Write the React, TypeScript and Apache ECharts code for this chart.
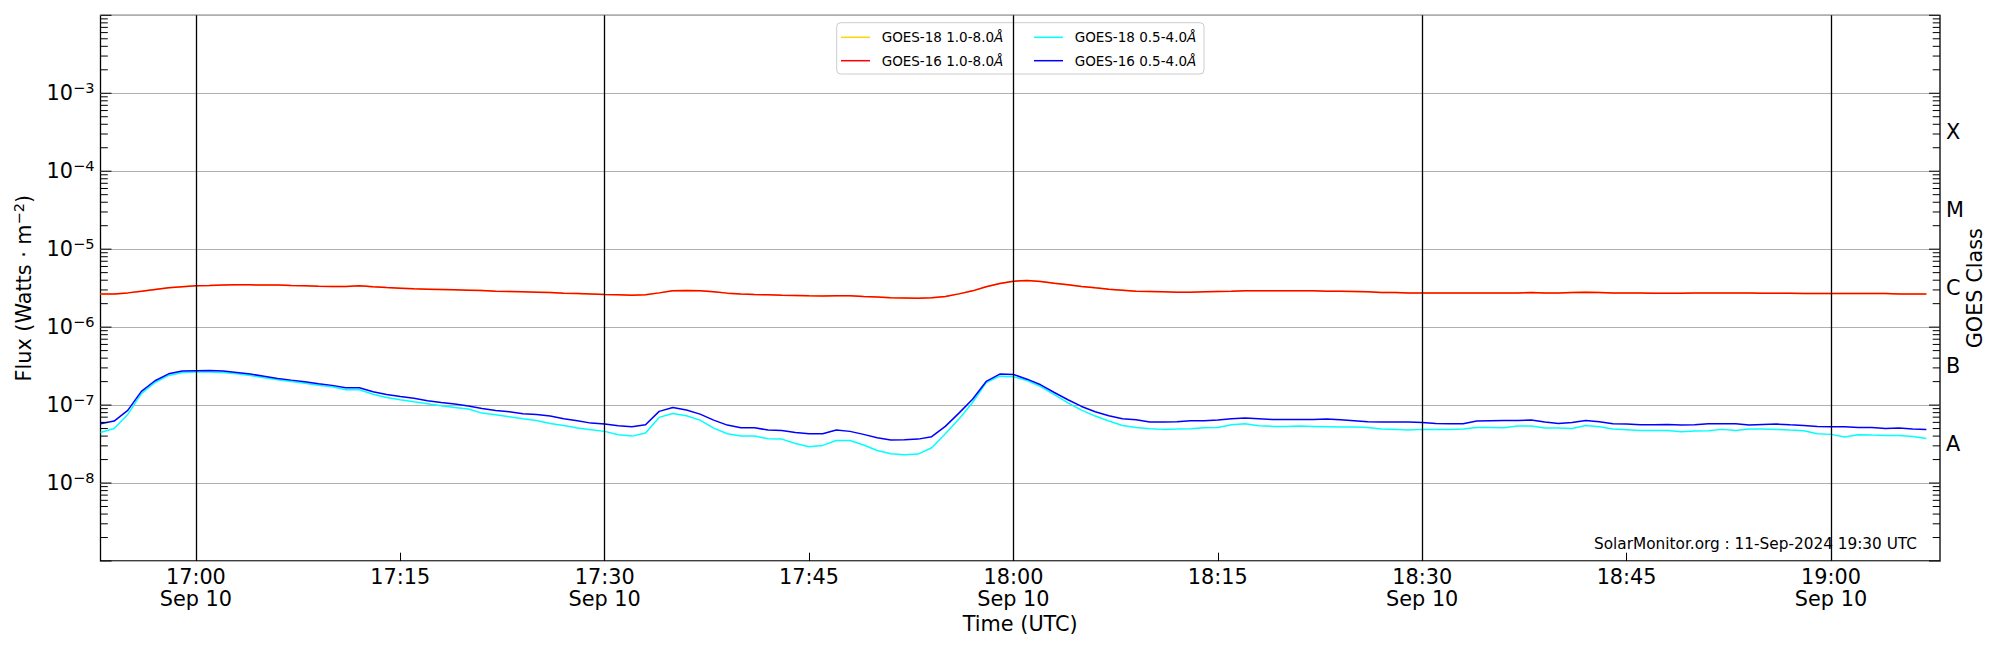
import React, { useEffect, useRef } from "react";
import * as echarts from "echarts";

// ---------- data ----------
const OBS_YEAR = 2024;
const OBS_MONTH = 8; // September (0-based)
const OBS_DAY = 10;
const MONTH_NAMES = ["Jan", "Feb", "Mar", "Apr", "May", "Jun", "Jul", "Aug", "Sep", "Oct", "Nov", "Dec"];
const FIRST_SAMPLE = "16:53";
const AXIS_START = "16:53";
const AXIS_END = "19:08";
const CADENCE_MS = 60000;

const seriesNames = ["GOES-18 1.0-8.0Å", "GOES-16 1.0-8.0Å", "GOES-18 0.5-4.0Å", "GOES-16 0.5-4.0Å"];

// GOES-16 1.0-8.0 Å (1-min)
const goes16Long = [
  2.67e-6, 2.67e-6, 2.75e-6, 2.89e-6, 3.04e-6, 3.19e-6, 3.29e-6, 3.39e-6, 3.42e-6, 3.46e-6,
  3.49e-6, 3.49e-6, 3.46e-6, 3.46e-6, 3.42e-6, 3.39e-6, 3.35e-6, 3.32e-6, 3.32e-6, 3.39e-6,
  3.29e-6, 3.22e-6, 3.16e-6, 3.10e-6, 3.07e-6, 3.04e-6, 3.01e-6, 2.98e-6, 2.95e-6, 2.89e-6,
  2.87e-6, 2.84e-6, 2.81e-6, 2.78e-6, 2.73e-6, 2.70e-6, 2.67e-6, 2.62e-6, 2.60e-6, 2.57e-6,
  2.60e-6, 2.75e-6, 2.92e-6, 2.95e-6, 2.92e-6, 2.84e-6, 2.73e-6, 2.67e-6, 2.62e-6, 2.60e-6,
  2.57e-6, 2.55e-6, 2.52e-6, 2.50e-6, 2.52e-6, 2.52e-6, 2.47e-6, 2.43e-6, 2.38e-6, 2.36e-6,
  2.34e-6, 2.38e-6, 2.47e-6, 2.67e-6, 2.92e-6, 3.29e-6, 3.63e-6, 3.89e-6, 3.96e-6, 3.85e-6,
  3.66e-6, 3.49e-6, 3.32e-6, 3.19e-6, 3.07e-6, 2.98e-6, 2.89e-6, 2.87e-6, 2.84e-6, 2.81e-6,
  2.81e-6, 2.84e-6, 2.87e-6, 2.89e-6, 2.92e-6, 2.92e-6, 2.92e-6, 2.92e-6, 2.92e-6, 2.92e-6,
  2.89e-6, 2.89e-6, 2.87e-6, 2.84e-6, 2.78e-6, 2.78e-6, 2.75e-6, 2.75e-6, 2.75e-6, 2.75e-6,
  2.75e-6, 2.75e-6, 2.75e-6, 2.75e-6, 2.75e-6, 2.78e-6, 2.75e-6, 2.75e-6, 2.78e-6, 2.81e-6,
  2.78e-6, 2.75e-6, 2.75e-6, 2.75e-6, 2.73e-6, 2.73e-6, 2.73e-6, 2.75e-6, 2.75e-6, 2.75e-6,
  2.75e-6, 2.75e-6, 2.73e-6, 2.73e-6, 2.73e-6, 2.70e-6, 2.70e-6, 2.70e-6, 2.70e-6, 2.70e-6,
  2.70e-6, 2.70e-6, 2.67e-6, 2.67e-6, 2.67e-6,
];

// GOES-18 1.0-8.0 Å: drawn underneath GOES-16 and indistinguishable from it in the picture
const goes18Long = goes16Long;

// GOES-18 0.5-4.0 Å (1-min)
const goes18Short = [
  4.46e-8, 5.02e-8, 7.59e-8, 1.40e-7, 1.95e-7, 2.40e-7, 2.62e-7, 2.65e-7, 2.65e-7, 2.62e-7,
  2.52e-7, 2.40e-7, 2.24e-7, 2.11e-7, 2.01e-7, 1.91e-7, 1.80e-7, 1.72e-7, 1.57e-7, 1.57e-7,
  1.38e-7, 1.25e-7, 1.17e-7, 1.10e-7, 1.04e-7, 9.80e-8, 9.33e-8, 8.89e-8, 7.89e-8, 7.52e-8,
  7.09e-8, 6.68e-8, 6.36e-8, 5.82e-8, 5.48e-8, 5.07e-8, 4.83e-8, 4.60e-8, 4.17e-8, 4.00e-8,
  4.38e-8, 6.95e-8, 7.82e-8, 7.30e-8, 6.42e-8, 5.07e-8, 4.29e-8, 4.00e-8, 4.00e-8, 3.70e-8,
  3.66e-8, 3.22e-8, 2.92e-8, 3.04e-8, 3.52e-8, 3.52e-8, 3.07e-8, 2.62e-8, 2.38e-8, 2.31e-8,
  2.35e-8, 2.84e-8, 4.29e-8, 6.61e-8, 1.08e-7, 1.95e-7, 2.35e-7, 2.31e-7, 2.07e-7, 1.73e-7,
  1.36e-7, 1.07e-7, 8.63e-8, 7.23e-8, 6.24e-8, 5.48e-8, 5.17e-8, 4.97e-8, 4.88e-8, 4.92e-8,
  4.97e-8, 5.12e-8, 5.17e-8, 5.59e-8, 5.76e-8, 5.43e-8, 5.33e-8, 5.33e-8, 5.38e-8, 5.33e-8,
  5.28e-8, 5.22e-8, 5.22e-8, 5.17e-8, 4.92e-8, 4.88e-8, 4.78e-8, 4.88e-8, 4.88e-8, 4.88e-8,
  4.92e-8, 5.17e-8, 5.17e-8, 5.12e-8, 5.38e-8, 5.38e-8, 5.07e-8, 5.07e-8, 5.02e-8, 5.48e-8,
  5.28e-8, 4.92e-8, 4.83e-8, 4.73e-8, 4.73e-8, 4.73e-8, 4.55e-8, 4.64e-8, 4.69e-8, 4.88e-8,
  4.73e-8, 4.92e-8, 4.92e-8, 4.88e-8, 4.78e-8, 4.69e-8, 4.29e-8, 4.21e-8, 3.89e-8, 4.17e-8,
  4.12e-8, 4.08e-8, 4.08e-8, 3.96e-8, 3.74e-8,
];

// GOES-16 0.5-4.0 Å (1-min)
const goes16Short = [
  5.76e-8, 6.24e-8, 8.54e-8, 1.50e-7, 2.05e-7, 2.52e-7, 2.73e-7, 2.76e-7, 2.78e-7, 2.73e-7,
  2.62e-7, 2.50e-7, 2.35e-7, 2.20e-7, 2.09e-7, 1.99e-7, 1.88e-7, 1.79e-7, 1.67e-7, 1.67e-7,
  1.48e-7, 1.37e-7, 1.29e-7, 1.22e-7, 1.14e-7, 1.08e-7, 1.03e-7, 9.71e-8, 9.06e-8, 8.54e-8,
  8.21e-8, 7.74e-8, 7.59e-8, 7.23e-8, 6.68e-8, 6.30e-8, 5.87e-8, 5.71e-8, 5.43e-8, 5.28e-8,
  5.59e-8, 8.30e-8, 9.33e-8, 8.63e-8, 7.66e-8, 6.42e-8, 5.54e-8, 5.12e-8, 5.12e-8, 4.78e-8,
  4.73e-8, 4.46e-8, 4.29e-8, 4.29e-8, 4.78e-8, 4.60e-8, 4.21e-8, 3.81e-8, 3.56e-8, 3.59e-8,
  3.66e-8, 3.93e-8, 5.33e-8, 7.89e-8, 1.19e-7, 2.01e-7, 2.50e-7, 2.47e-7, 2.15e-7, 1.82e-7,
  1.45e-7, 1.17e-7, 9.61e-8, 8.21e-8, 7.30e-8, 6.68e-8, 6.49e-8, 6.05e-8, 6.05e-8, 6.11e-8,
  6.30e-8, 6.30e-8, 6.42e-8, 6.68e-8, 6.81e-8, 6.68e-8, 6.55e-8, 6.55e-8, 6.55e-8, 6.55e-8,
  6.61e-8, 6.49e-8, 6.30e-8, 6.11e-8, 6.05e-8, 6.05e-8, 6.05e-8, 5.99e-8, 5.82e-8, 5.76e-8,
  5.76e-8, 6.24e-8, 6.30e-8, 6.36e-8, 6.36e-8, 6.42e-8, 6.05e-8, 5.82e-8, 5.99e-8, 6.36e-8,
  6.11e-8, 5.76e-8, 5.71e-8, 5.59e-8, 5.59e-8, 5.65e-8, 5.54e-8, 5.59e-8, 5.76e-8, 5.76e-8,
  5.76e-8, 5.54e-8, 5.65e-8, 5.71e-8, 5.59e-8, 5.48e-8, 5.33e-8, 5.28e-8, 5.28e-8, 5.17e-8,
  5.17e-8, 5.02e-8, 5.07e-8, 4.92e-8, 4.88e-8,
];

const xTickTimes = ["17:00", "17:15", "17:30", "17:45", "18:00", "18:15", "18:30", "18:45", "19:00"];
const dividerTimes = ["17:00", "17:30", "18:00", "18:30", "19:00"];
const labelledDecades = [-3, -4, -5, -6, -7, -8];
const tickDecades = [-9, -8, -7, -6, -5, -4, -3, -2];
const minorMultipliers = [2, 3, 4, 5, 6, 7, 8, 9];
const goesClassNames = ["X", "M", "C", "B", "A"];
const goesClassExponents = [-3.5, -4.5, -5.5, -6.5, -7.5];
const rightAxisTitle = "GOES Class";
const watermark = "SolarMonitor.org : 11-Sep-2024 19:30 UTC";

// ---------- helpers ----------
const FONT = "DejaVu Sans";
const toMs = (hhmm: string) => {
  const [h, m] = hhmm.split(":").map(Number);
  return Date.UTC(OBS_YEAR, OBS_MONTH, OBS_DAY, h, m);
};
const withTimes = (vals: number[]) => vals.map((v, i) => [toMs(FIRST_SAMPLE) + i * CADENCE_MS, v]);
const pad2 = (n: number) => (n < 10 ? "0" + n : "" + n);

const yTickMarks: number[][] = [];
tickDecades.forEach((e) => {
  yTickMarks.push([toMs(AXIS_START), Math.pow(10, e), 1]);
  if (e < -2) minorMultipliers.forEach((m) => yTickMarks.push([toMs(AXIS_START), m * Math.pow(10, e), 0]));
});

const legendBase = (names: string[], left: number) => ({
  data: names.map((n) => ({ name: n, icon: "rect" })),
  orient: "vertical",
  left,
  top: 29.3,
  padding: 0,
  itemWidth: 29,
  itemHeight: 1.5,
  itemGap: 7.4,
  selectedMode: false,
  formatter: (n: string) => n.replace("Å", "{i|Å}"),
  textStyle: {
    fontFamily: FONT,
    fontSize: 13.5,
    lineHeight: 16,
    color: "#000",
    padding: [0, 0, 0, 6.7],
    rich: { i: { fontFamily: FONT, fontSize: 13.5, fontStyle: "italic", color: "#000" } },
  },
  z: 5,
});

export default function App() {
  const ref = useRef<HTMLDivElement>(null);

  useEffect(() => {
    if (!ref.current) return;
    const chart = echarts.init(ref.current, null, { renderer: "svg" });

    const lineSeries = (name: string, color: string, vals: number[], extra: any = {}) => ({
      name,
      type: "line",
      data: withTimes(vals),
      xAxisIndex: 0,
      yAxisIndex: 0,
      symbol: "none",
      showSymbol: false,
      silent: true,
      lineStyle: { color, width: 1.5 },
      itemStyle: { color },
      emphasis: { disabled: true },
      z: 2,
      ...extra,
    });

    const option: any = {
      animation: false,
      backgroundColor: "#ffffff",
      textStyle: { fontFamily: FONT },
      grid: {
        left: 100.5,
        right: 60,
        top: 15.3,
        bottom: 89,
        show: true,
        borderColor: "#000000",
        borderWidth: 1.3,
        backgroundColor: "transparent",
        containLabel: false,
        outerBoundsMode: "none",
      },
      legend: [legendBase([seriesNames[0], seriesNames[1]], 841), legendBase([seriesNames[2], seriesNames[3]], 1034)],
      graphic: [
        {
          type: "rect",
          shape: { x: 836.7, y: 22.7, width: 367.3, height: 51.3, r: 4 },
          style: { fill: "rgba(255,255,255,0.8)", stroke: "#cccccc", lineWidth: 1 },
          z: 4,
          silent: true,
        },
        {
          type: "text",
          x: 1917,
          y: 543.6,
          style: {
            text: watermark,
            fontFamily: FONT,
            fontSize: 15.3,
            fill: "#000",
            align: "right",
            textAlign: "right",
            verticalAlign: "middle",
            textVerticalAlign: "middle",
          },
          z: 6,
          silent: true,
        },
        {
          type: "text",
          x: 1975,
          y: 288.2,
          rotation: Math.PI / 2,
          style: {
            text: rightAxisTitle,
            fontFamily: FONT,
            fontSize: 20.8,
            fill: "#000",
            align: "center",
            textAlign: "center",
            verticalAlign: "middle",
            textVerticalAlign: "middle",
          },
          z: 6,
          silent: true,
        },
      ],
      xAxis: [
        {
          type: "value",
          min: toMs(AXIS_START),
          max: toMs(AXIS_END),
          axisLine: { show: false },
          splitLine: { show: false },
          axisTick: {
            show: true,
            inside: true,
            length: 8.3,
            customValues: xTickTimes.map(toMs),
            lineStyle: { color: "#000", width: 1 },
          },
          axisLabel: {
            customValues: xTickTimes.map(toMs),
            margin: 4.5,
            fontFamily: FONT,
            fontSize: 20.8,
            lineHeight: 22.3,
            color: "#000",
            formatter: (v: number) => {
              const d = new Date(v);
              const mm = d.getUTCMinutes();
              const base = pad2(d.getUTCHours()) + ":" + pad2(mm);
              return mm % 30 === 0 ? base + "\n" + MONTH_NAMES[d.getUTCMonth()] + " " + d.getUTCDate() : base;
            },
          },
          name: "Time (UTC)",
          nameLocation: "middle",
          nameGap: 50.5,
          nameMoveOverlap: false,
          nameTextStyle: { fontFamily: FONT, fontSize: 20.8, lineHeight: 24, color: "#000" },
        },
      ],
      yAxis: [
        {
          type: "log",
          logBase: 10,
          min: 1e-9,
          max: 1e-2,
          position: "left",
          axisLine: { show: false },
          axisTick: { show: false },
          splitLine: { show: true, lineStyle: { color: "#b0b0b0", width: 1 } },
          axisLabel: {
            margin: 6,
            color: "#000",
            formatter: (v: number) => {
              const e = Math.round(Math.log10(v));
              return labelledDecades.indexOf(e) >= 0 ? `{n|10}{s|\u2212${-e}}` : "";
            },
            rich: {
              n: { fontFamily: FONT, fontSize: 20.8, lineHeight: 26, color: "#000" },
              s: { fontFamily: FONT, fontSize: 14.6, lineHeight: 13.5, verticalAlign: "top", color: "#000" },
            },
          },
          name: "Flux (Watts \u00b7 m{s|\u22122})",
          nameLocation: "middle",
          nameGap: 63.5,
          nameMoveOverlap: false,
          nameTextStyle: {
            fontFamily: FONT,
            fontSize: 20.8,
            lineHeight: 26,
            color: "#000",
            rich: { s: { fontFamily: FONT, fontSize: 14.6, lineHeight: 13.5, verticalAlign: "top", color: "#000" } },
          },
        },
        {
          type: "value",
          min: -9,
          max: -2,
          position: "right",
          axisLine: { show: false },
          axisTick: { show: false },
          splitLine: { show: false },
          axisLabel: {
            customValues: goesClassExponents,
            margin: 6,
            fontFamily: FONT,
            fontSize: 20.8,
            color: "#000",
            formatter: (v: number) => {
              const i = goesClassExponents.findIndex((x) => Math.abs(x - v) < 1e-6);
              return i >= 0 ? goesClassNames[i] : "";
            },
          },
        },
      ],
      series: [
        lineSeries(seriesNames[0], "#ffd700", goes18Long, {
          markLine: {
            silent: true,
            symbol: ["none", "none"],
            label: { show: false },
            emphasis: { disabled: true },
            lineStyle: { color: "#000000", width: 1.3, type: "solid" },
            data: dividerTimes.map((t) => ({ xAxis: toMs(t) })),
          },
        }),
        lineSeries(seriesNames[1], "#ff0000", goes16Long),
        lineSeries(seriesNames[2], "#00ffff", goes18Short),
        lineSeries(seriesNames[3], "#0000ff", goes16Short),
        {
          type: "custom",
          name: "yTicks",
          xAxisIndex: 0,
          yAxisIndex: 0,
          silent: true,
          clip: false,
          z: 6,
          dimensions: ["x", "y", "major"],
          encode: { x: 0, y: 1 },
          data: yTickMarks,
          renderItem: (params: any, api: any) => {
            const cs = params.coordSys;
            const y = api.coord([api.value(0), api.value(1)])[1];
            const len = api.value(2) === 1 ? 11 : 7.3;
            const st = { stroke: "#000", lineWidth: 1 };
            return {
              type: "group",
              children: [
                { type: "line", shape: { x1: cs.x, y1: y, x2: cs.x + len, y2: y }, style: st },
                { type: "line", shape: { x1: cs.x + cs.width - len, y1: y, x2: cs.x + cs.width, y2: y }, style: st },
              ],
            };
          },
        },
      ],
    };

    chart.setOption(option);
    return () => chart.dispose();
  }, []);

  return (
    <div
      ref={ref}
      style={{ position: "fixed", left: 0, top: 0, width: 2000, height: 650, background: "#fff" }}
    />
  );
}
